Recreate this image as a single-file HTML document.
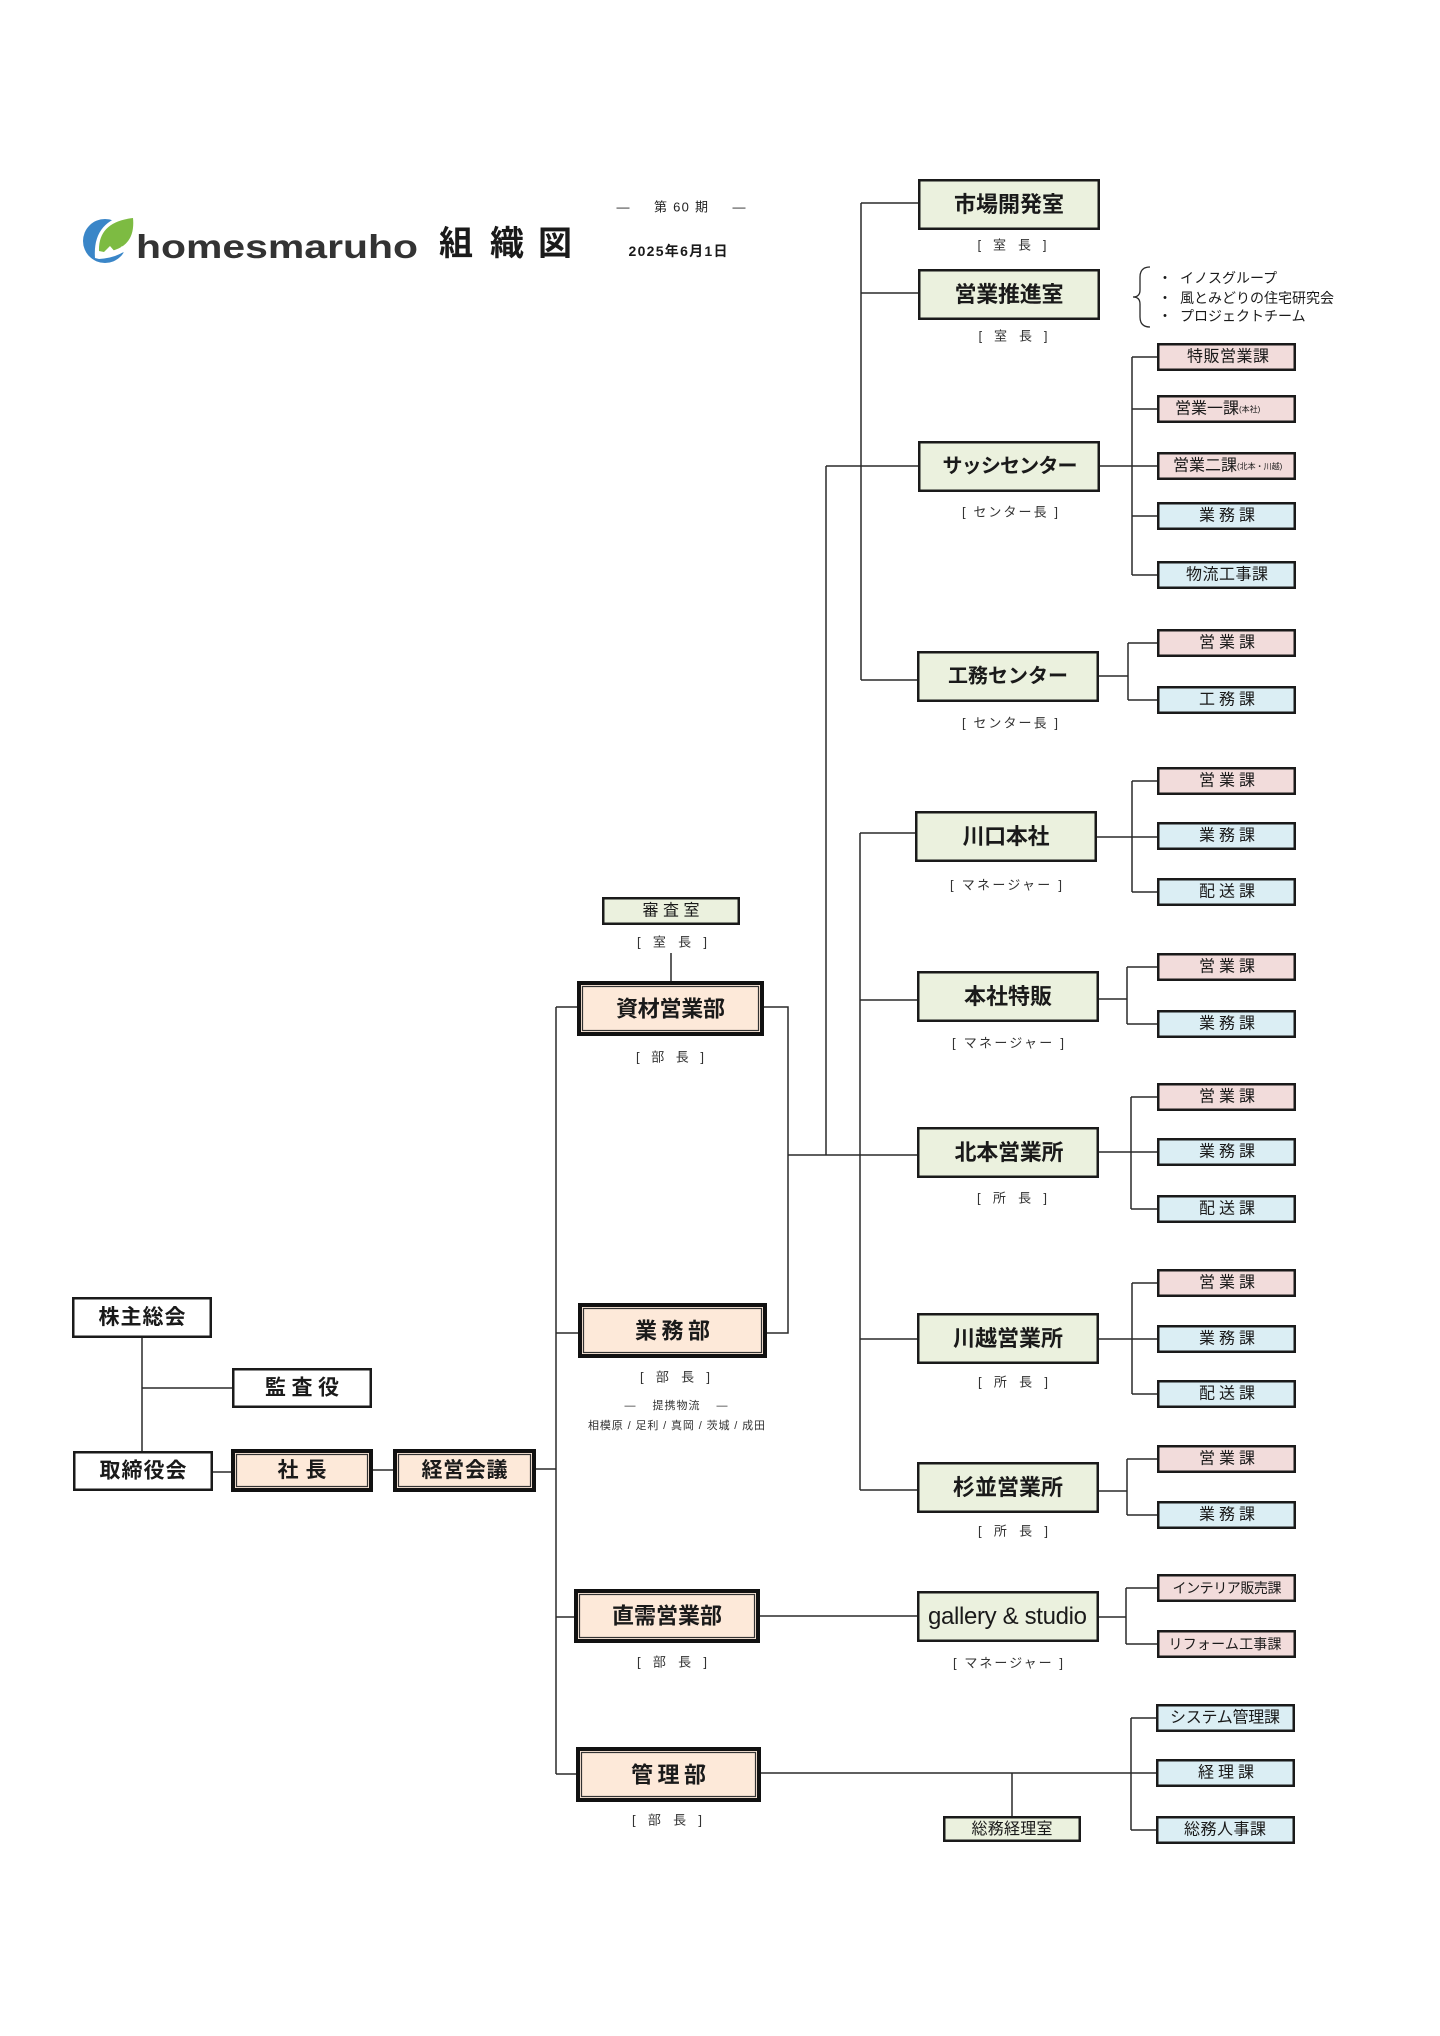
<!DOCTYPE html>
<html lang="ja">
<head>
<meta charset="utf-8">
<title>homesmaruho 組織図</title>
<style>
html,body{margin:0;padding:0;background:#fff;}
svg{display:block;}
text{font-family:"Liberation Sans","Noto Sans CJK JP",sans-serif;fill:#1a1a1a;dominant-baseline:central;text-anchor:middle;}
.g{fill:#ebf1de;stroke:#1a1a1a;stroke-width:2.5;}
.p{fill:#f2dcdb;stroke:#1a1a1a;stroke-width:2.5;}
.b{fill:#dbeef4;stroke:#1a1a1a;stroke-width:2.5;}
.w{fill:#fff;stroke:#1a1a1a;stroke-width:2.5;}
.o{fill:#fde9d9;stroke:#111;stroke-width:4;}
.oi{fill:none;stroke:#333;stroke-width:1.2;}
.ln{fill:none;stroke:#2a2a2a;stroke-width:1.5;}
.t22{font-size:22px;font-weight:bold;}
.t21{font-size:21px;font-weight:bold;}
.t16{font-size:16px;}
.t14{font-size:14px;}
.t13{font-size:13px;fill:#333;}
.t11{font-size:11px;fill:#333;}
</style>
</head>
<body>
<svg width="1440" height="2036" viewBox="0 0 1440 2036" xmlns="http://www.w3.org/2000/svg">
<rect x="0" y="0" width="1440" height="2036" fill="#fff"/>

<!-- Logo -->
<circle cx="105" cy="241" r="22" fill="#3a86c8"/>
<path d="M95,258 Q92,217 138,213 Q142,256 99,259 Z" fill="#fff"/>
<path d="M99,251 Q98,222 133,218 Q136,249 104,252 Z" fill="#7dbb42"/>
<path d="M100,256 L110,246 L116,253 L122,246 L126,252 Z" fill="#fff"/>
<text x="136" y="258" style="dominant-baseline:alphabetic;text-anchor:start;font-size:33px;font-weight:bold;fill:#333;" textLength="282" lengthAdjust="spacingAndGlyphs">homesmaruho</text>

<!-- Title -->
<text x="456" y="244" style="font-size:34px;font-weight:bold;">組</text>
<text x="507" y="244" style="font-size:34px;font-weight:bold;">織</text>
<text x="555" y="244" style="font-size:34px;font-weight:bold;">図</text>
<text x="623" y="207" class="t13" style="fill:#222;">—</text>
<text x="681" y="207" class="t13" style="fill:#222;" textLength="54">第 60 期</text>
<text x="739" y="207" class="t13" style="fill:#222;">—</text>
<text x="678" y="251" style="font-size:14px;font-weight:bold;" textLength="99">2025年6月1日</text>

<!-- Connector lines -->
<path class="ln" d="
M142,1338 V1451 M142,1388 H232
M213,1472 H231 M373,1470 H393 M536,1469 H556
M556,1007 V1774 M556,1007 H577 M556,1333 H578 M556,1617 H574 M556,1774 H576
M671,953 V981
M764,1007 H788 V1333 H767
M788,1155 H917
M826,466 V1155 M826,466 H918
M861,203 V680 M861,203 H919 M861,293 H918 M861,680 H917
M860,833 V1490 M860,833 H915 M860,1000 H917 M860,1339 H917 M860,1490 H917
M760,1616 H917
M761,1773 H1156 M1012,1773 V1816
M1100,466 H1158 M1132,357 V575 M1132,357 H1158 M1132,409 H1158 M1132,516 H1157 M1132,575 H1158
M1098,676 H1128 M1128,643 V700 M1128,643 H1158 M1128,700 H1158
M1096,837 H1157 M1132,781 V892 M1132,781 H1157 M1132,892 H1157
M1098,999 H1127 M1127,967 V1024 M1127,967 H1157 M1127,1024 H1157
M1099,1152 H1157 M1131,1097 V1209 M1131,1097 H1157 M1131,1209 H1157
M1099,1339 H1157 M1132,1283 V1394 M1132,1283 H1157 M1132,1394 H1157
M1099,1491 H1127 M1127,1459 V1515 M1127,1459 H1157 M1127,1515 H1157
M1099,1617 H1126 M1126,1588 V1644 M1126,1588 H1157 M1126,1644 H1157
M1131,1718 V1830 M1131,1718 H1156 M1131,1830 H1156
"/>

<!-- Brace -->
<path class="ln" style="stroke-width:1.3" d="M1150,267 Q1140,267 1140,277 L1140,290 Q1140,297 1133,297 Q1140,297 1140,304 L1140,317 Q1140,327 1150,327"/>
<text x="1158" y="278" class="t14" style="text-anchor:start;">・</text>
<text x="1158" y="298" class="t14" style="text-anchor:start;">・</text>
<text x="1158" y="316" class="t14" style="text-anchor:start;">・</text>
<text x="1180" y="278" class="t14" style="text-anchor:start;">イノスグループ</text>
<text x="1180" y="298" class="t14" style="text-anchor:start;">風とみどりの住宅研究会</text>
<text x="1180" y="316" class="t14" style="text-anchor:start;">プロジェクトチーム</text>

<!-- Left white boxes -->
<rect class="w" x="73.25" y="1298.25" width="137.5" height="38.5"/>
<text x="142" y="1317.5" class="t21" textLength="87">株主総会</text>
<rect class="w" x="233.25" y="1369.25" width="137.5" height="37.5"/>
<text x="302" y="1388" class="t21" textLength="74">監査役</text>
<rect class="w" x="74.25" y="1452.25" width="137.5" height="37.5"/>
<text x="143" y="1471" class="t21" textLength="87">取締役会</text>

<!-- Peach double boxes -->
<rect class="o" x="233" y="1451" width="138" height="39"/>
<rect class="oi" x="236.5" y="1454.5" width="131" height="32"/>
<text x="302" y="1470.5" class="t21" textLength="49">社長</text>

<rect class="o" x="395" y="1451" width="139" height="39"/>
<rect class="oi" x="398.5" y="1454.5" width="132" height="32"/>
<text x="464.5" y="1470.5" class="t21" textLength="86">経営会議</text>

<rect class="o" x="579" y="983" width="183" height="51"/>
<rect class="oi" x="582.5" y="986.5" width="176" height="44"/>
<text x="670.5" y="1009" class="t22" textLength="109">資材営業部</text>

<rect class="o" x="580" y="1305" width="185" height="51"/>
<rect class="oi" x="583.5" y="1308.5" width="178" height="44"/>
<text x="672.5" y="1331" class="t22" textLength="75">業務部</text>

<rect class="o" x="576" y="1591" width="182" height="50"/>
<rect class="oi" x="579.5" y="1594.5" width="175" height="43"/>
<text x="667" y="1616" class="t22" textLength="110">直需営業部</text>

<rect class="o" x="578" y="1749" width="181" height="51"/>
<rect class="oi" x="581.5" y="1752.5" width="174" height="44"/>
<text x="668.5" y="1775" class="t22" textLength="75">管理部</text>

<!-- 審査室 -->
<rect class="g" x="603.25" y="898.25" width="135.5" height="25.5"/>
<text x="671" y="911" class="t16" textLength="57">審査室</text>
<text x="672" y="942" class="t13" textLength="70">[ 室 長 ]</text>

<!-- Left labels -->
<text x="670" y="1057" class="t13" textLength="68">[ 部 長 ]</text>
<text x="675" y="1377" class="t13" textLength="70">[ 部 長 ]</text>
<text x="676" y="1406" class="t11" textLength="103">—　 提携物流 　—</text>
<text x="676.5" y="1426" class="t11" textLength="177">相模原 / 足利 / 真岡 / 茨城 / 成田</text>
<text x="672" y="1662" class="t13" textLength="70">[ 部 長 ]</text>
<text x="667" y="1820" class="t13" textLength="70">[ 部 長 ]</text>

<!-- Big green boxes -->
<rect class="g" x="919.25" y="180.25" width="179.5" height="48.5"/>
<text x="1009" y="204.5" class="t22" textLength="110">市場開発室</text>
<text x="1012" y="245" class="t13" textLength="69">[ 室 長 ]</text>

<rect class="g" x="919.25" y="270.25" width="179.5" height="48.5"/>
<text x="1009" y="294.5" class="t22" textLength="109">営業推進室</text>
<text x="1013" y="336" class="t13" textLength="69">[ 室 長 ]</text>

<rect class="g" x="919.25" y="442.25" width="179.5" height="48.5"/>
<text x="1010" y="466.5" class="t22" style="font-size:20px;" textLength="135">サッシセンター</text>
<text x="1010" y="512" class="t13" textLength="96">[ センター長 ]</text>

<rect class="g" x="918.25" y="652.25" width="179.5" height="48.5"/>
<text x="1008" y="676.5" class="t22" style="font-size:20px;" textLength="120">工務センター</text>
<text x="1010" y="723" class="t13" textLength="96">[ センター長 ]</text>

<rect class="g" x="916.25" y="812.25" width="179.5" height="48.5"/>
<text x="1006" y="836.5" class="t22" textLength="87">川口本社</text>
<text x="1006" y="885" class="t13" textLength="112">[ マネージャー ]</text>

<rect class="g" x="918.25" y="972.25" width="179.5" height="48.5"/>
<text x="1008" y="996.5" class="t22" textLength="88">本社特販</text>
<text x="1008" y="1043" class="t13" textLength="112">[ マネージャー ]</text>

<rect class="g" x="918.25" y="1128.25" width="179.5" height="48.5"/>
<text x="1009" y="1152.5" class="t22" textLength="109">北本営業所</text>
<text x="1012" y="1198" class="t13" textLength="70">[ 所 長 ]</text>

<rect class="g" x="918.25" y="1314.25" width="179.5" height="48.5"/>
<text x="1008" y="1338.5" class="t22" textLength="110">川越営業所</text>
<text x="1013" y="1382" class="t13" textLength="70">[ 所 長 ]</text>

<rect class="g" x="918.25" y="1463.25" width="179.5" height="48.5"/>
<text x="1008" y="1487.5" class="t22" textLength="110">杉並営業所</text>
<text x="1013" y="1531" class="t13" textLength="70">[ 所 長 ]</text>

<rect class="g" x="918.25" y="1592.25" width="179.5" height="48.5"/>
<text x="1007.5" y="1616.5" style="font-size:24px;" textLength="159">gallery &amp; studio</text>
<text x="1008" y="1663" class="t13" textLength="110">[ マネージャー ]</text>

<!-- 総務経理室 -->
<rect class="g" x="944.25" y="1817.25" width="135.5" height="23.5"/>
<text x="1012" y="1829.5" class="t16" textLength="81">総務経理室</text>

<!-- Small boxes -->
<rect class="p" x="1158.25" y="344.25" width="136.5" height="25.5"/>
<text x="1228" y="357" class="t16" textLength="82">特販営業課</text>

<rect class="p" x="1158.25" y="396.25" width="136.5" height="25.5"/>
<text x="1175" y="409" class="t16" style="text-anchor:start;">営業一課<tspan style="font-size:8px;">(本社)</tspan></text>

<rect class="p" x="1158.25" y="453.25" width="136.5" height="25.5"/>
<text x="1173" y="466" class="t16" style="text-anchor:start;">営業二課<tspan style="font-size:8px;">(北本・川越)</tspan></text>

<rect class="b" x="1158.25" y="503.25" width="136.5" height="25.5"/>
<text x="1227" y="516" class="t16" textLength="56">業務課</text>

<rect class="b" x="1158.25" y="562.25" width="136.5" height="25.5"/>
<text x="1227" y="575" class="t16" textLength="82">物流工事課</text>

<rect class="p" x="1158.25" y="630.25" width="136.5" height="25.5"/>
<text x="1227" y="643" class="t16" textLength="56">営業課</text>
<rect class="b" x="1158.25" y="687.25" width="136.5" height="25.5"/>
<text x="1227" y="700" class="t16" textLength="56">工務課</text>

<rect class="p" x="1158.25" y="768.25" width="136.5" height="25.5"/>
<text x="1227" y="781" class="t16" textLength="56">営業課</text>
<rect class="b" x="1158.25" y="823.25" width="136.5" height="25.5"/>
<text x="1227" y="836" class="t16" textLength="56">業務課</text>
<rect class="b" x="1158.25" y="879.25" width="136.5" height="25.5"/>
<text x="1227" y="892" class="t16" textLength="56">配送課</text>

<rect class="p" x="1158.25" y="954.25" width="136.5" height="25.5"/>
<text x="1227" y="967" class="t16" textLength="56">営業課</text>
<rect class="b" x="1158.25" y="1011.25" width="136.5" height="25.5"/>
<text x="1227" y="1024" class="t16" textLength="56">業務課</text>

<rect class="p" x="1158.25" y="1084.25" width="136.5" height="25.5"/>
<text x="1227" y="1097" class="t16" textLength="56">営業課</text>
<rect class="b" x="1158.25" y="1139.25" width="136.5" height="25.5"/>
<text x="1227" y="1152" class="t16" textLength="56">業務課</text>
<rect class="b" x="1158.25" y="1196.25" width="136.5" height="25.5"/>
<text x="1227" y="1209" class="t16" textLength="56">配送課</text>

<rect class="p" x="1158.25" y="1270.25" width="136.5" height="25.5"/>
<text x="1227" y="1283" class="t16" textLength="56">営業課</text>
<rect class="b" x="1158.25" y="1326.25" width="136.5" height="25.5"/>
<text x="1227" y="1339" class="t16" textLength="56">業務課</text>
<rect class="b" x="1158.25" y="1381.25" width="136.5" height="25.5"/>
<text x="1227" y="1394" class="t16" textLength="56">配送課</text>

<rect class="p" x="1158.25" y="1446.25" width="136.5" height="25.5"/>
<text x="1227" y="1459" class="t16" textLength="56">営業課</text>
<rect class="b" x="1158.25" y="1502.25" width="136.5" height="25.5"/>
<text x="1227" y="1515" class="t16" textLength="56">業務課</text>

<rect class="p" x="1158.25" y="1575.25" width="136.5" height="25.5"/>
<text x="1227" y="1588" class="t14" textLength="109">インテリア販売課</text>
<rect class="p" x="1158.25" y="1631.25" width="136.5" height="25.5"/>
<text x="1225" y="1644" class="t14" textLength="113">リフォーム工事課</text>

<rect class="b" x="1157.25" y="1705.25" width="136.5" height="25.5"/>
<text x="1225" y="1718" class="t16" textLength="110">システム管理課</text>
<rect class="b" x="1157.25" y="1760.25" width="136.5" height="25.5"/>
<text x="1226" y="1773" class="t16" textLength="56">経理課</text>
<rect class="b" x="1157.25" y="1817.25" width="136.5" height="25.5"/>
<text x="1225" y="1830" class="t16" textLength="82">総務人事課</text>

</svg>
</body>
</html>
